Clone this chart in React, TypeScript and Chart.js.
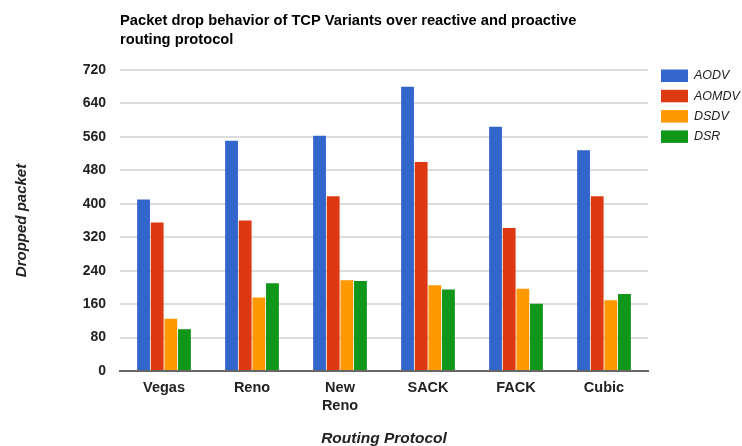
import React, { useEffect, useRef } from "react";
import { Chart, registerables } from "chart.js";

Chart.register(...registerables);

const categories: (string | string[])[] = ["Vegas", "Reno", ["New", "Reno"], "SACK", "FACK", "Cubic"];
const seriesNames = ["AODV", "AOMDV", "DSDV", "DSR"];
const aodv = [410, 551, 563, 680, 584, 528];
const aomdv = [355, 360, 418, 500, 342, 418];
const dsdv = [125, 176, 217, 205, 197, 169];
const dsr = [100, 210, 215, 195, 161, 184];
const colors = ["#3366cc", "#dc3912", "#ff9900", "#109618"];
const yTicks = [0, 80, 160, 240, 320, 400, 480, 560, 640, 720];

const titleLines = [
  "Packet drop behavior of TCP Variants over reactive and proactive",
  "routing protocol",
];

const FONT = "'Liberation Sans', Arial, sans-serif";

export default function App() {
  const ref = useRef<HTMLCanvasElement | null>(null);
  useEffect(() => {
    if (!ref.current) return;
    const overlay = {
      id: "overlay",
      afterDraw(chart: any) {
        const ctx = chart.ctx;
        const area = chart.chartArea;
        ctx.save();
        ctx.fillStyle = "#000";
        ctx.font = `bold 14.7px ${FONT}`;
        ctx.textAlign = "left";
        ctx.textBaseline = "middle";
        titleLines.forEach((t, i) => ctx.fillText(t, area.left, 21 + i * 19));
        // legend
        chart.data.datasets.forEach((ds: any, i: number) => {
          const y = 69.5 + i * 20.3;
          ctx.fillStyle = ds.backgroundColor;
          ctx.fillRect(661, y, 27, 12.5);
          ctx.fillStyle = "#222";
          ctx.font = `italic 12.5px ${FONT}`;
          ctx.fillText(ds.label, 694, y + 6.5);
        });
        ctx.restore();
      },
    };
    const chart = new Chart(ref.current, {
      type: "bar",
      data: {
        labels: categories,
        datasets: [aodv, aomdv, dsdv, dsr].map((d, i) => ({
          label: seriesNames[i],
          data: d,
          backgroundColor: colors[i],
          borderWidth: 0,
          categoryPercentage: 0.62,
          barPercentage: 0.94,
        })),
      },
      options: {
        responsive: false,
        animation: false,
        layout: { padding: { top: 70, right: 94, left: 0, bottom: 0 } },
        plugins: { legend: { display: false }, title: { display: false }, tooltip: { enabled: false } },
        scales: {
          x: {
            grid: { display: false, drawTicks: false },
            border: { display: true, color: "#666", width: 2 },
            ticks: { color: "#222", font: { family: FONT, size: 14.5, weight: "bold", lineHeight: 1.22 }, padding: 8, maxRotation: 0, autoSkip: false },
            title: { display: true, text: "Routing Protocol", color: "#222", font: { family: FONT, size: 15.5, weight: "bold", style: "italic", lineHeight: 1 }, padding: { top: 0, bottom: 0 } },
            afterFit(scale: any) { scale.height = 75; },
          },
          y: {
            min: 0,
            max: 720,
            afterBuildTicks(scale: any) { scale.ticks = yTicks.map((v) => ({ value: v })); },
            grid: { drawTicks: false, color: "#dddddd", lineWidth: 2 },
            border: { display: false },
            ticks: { color: "#222", font: { family: FONT, size: 14, weight: "bold" }, padding: 14 },
            title: { display: true, text: "Dropped packet", color: "#222", font: { family: FONT, size: 15, weight: "bold", style: "italic", lineHeight: 1 }, padding: { top: 14.5, bottom: 0 } },
            afterFit(scale: any) { scale.width = 120; },
          },
        },
      },
      plugins: [overlay],
    } as any);
    return () => chart.destroy();
  }, []);
  return (
    <div style={{ position: "fixed", left: 0, top: 0, width: 742, height: 446, background: "#fff" }}>
      <canvas ref={ref} width={742} height={446} />
    </div>
  );
}
